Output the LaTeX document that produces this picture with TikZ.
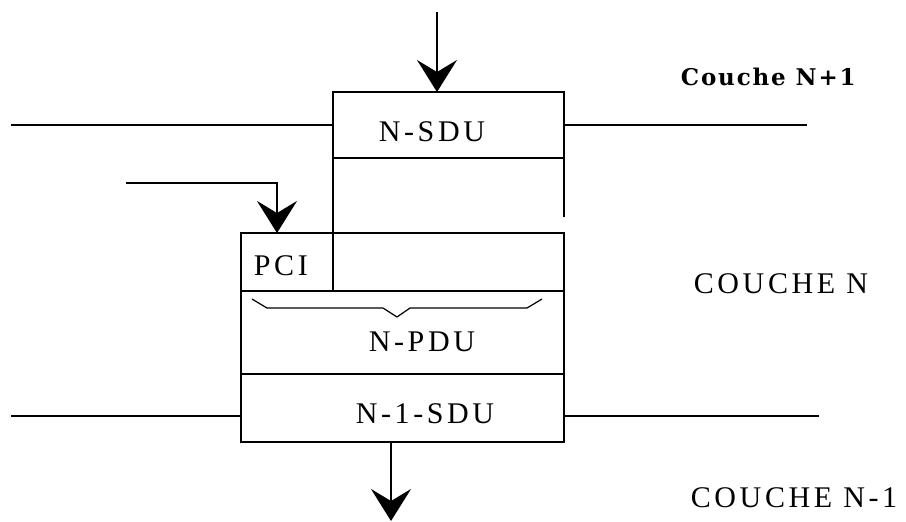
\documentclass[tikz,border=0pt]{standalone}
\usepackage{fontspec}
\setmainfont{Liberation Serif}
\newfontfamily\spacedfont[LetterSpace=12]{Liberation Serif}
\newfontfamily\layerfont[LetterSpace=8]{DejaVu Serif}
\usetikzlibrary{arrows.meta}
\tikzset{
  bigarrow/.style={-{Stealth[length=16pt,width=20pt,inset=6pt]}},
  pdutext/.style={anchor=base west, inner sep=0pt, font=\spacedfont\fontsize{15}{17}\selectfont},
  layertext/.style={anchor=base west, inner sep=0pt, font=\spacedfont\fontsize{15}{17}\selectfont},
}
\begin{document}
\begin{tikzpicture}[x=0.5pt, y=-0.5pt, line width=0.9pt]
  \useasboundingbox (0,0) rectangle (906,521);
  \coordinate (src) at (437,12);   \coordinate (sdutop) at (437,92);
  \coordinate (pcisrc) at (126,183); \coordinate (pcitop) at (277,233);
  \coordinate (pdubot) at (391,442); \coordinate (sink) at (391,521);
  \draw (333,92) rectangle (564,158);
  \draw (333,158) -- (333,291);
  \draw (564,158) -- (564,217);
  \draw (241,233) rectangle (564,442);
  \draw (241,291) -- (564,291);
  \draw (241,374) -- (564,374);
  \draw (11,125) -- (333,125);  \draw (564,125) -- (807,125);
  \draw (11,416) -- (241,416);  \draw (564,416) -- (819,416);
  \draw[line width=0.6pt] (252,299) -- (267,308) -- (383,308) -- (397,317)
    -- (410,308) -- (527,308) -- (542,299);
  \draw[bigarrow] (src) -- (sdutop);
  \draw[bigarrow] (pcisrc) -| (pcitop);
  \draw[bigarrow] (pdubot) -- (sink);
  \node[pdutext] (nsdu) at (378,141) {N-SDU};
  \node[pdutext] (pci) at (253,275) {PCI};
  \node[pdutext] (npdu) at (368,351) {N-PDU};
  \node[pdutext] (nmsdu) at (355,423) {N-1-SDU};
  \node[anchor=base west, inner sep=0pt, font=\layerfont\bfseries\fontsize{11.5}{13}\selectfont] (cnp) at (680,85) {Couche N+1};
  \node[layertext] (cn) at (693,293) {COUCHE N};
  \node[layertext] (cnm) at (690,507) {COUCHE N-1};
\end{tikzpicture}
\end{document}
